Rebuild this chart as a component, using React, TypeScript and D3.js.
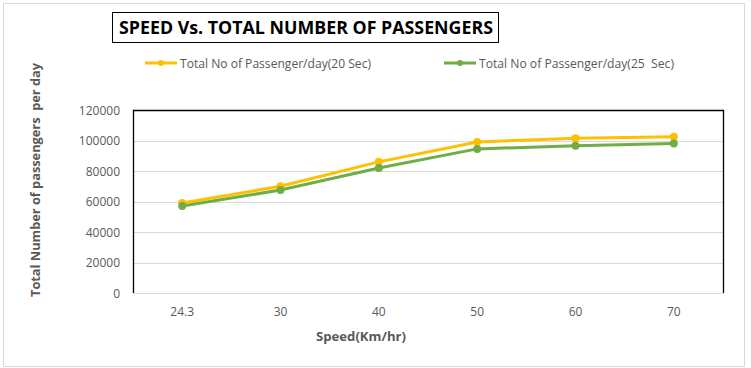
import React from 'react';
import * as d3 from 'd3';

const speeds = ['24.3', '30', '40', '50', '60', '70'];
const pass20 = [59000, 70000, 86000, 99000, 101500, 102500];
const pass25 = [57000, 67500, 82000, 94500, 96500, 98000];
const yTicks = [0, 20000, 40000, 60000, 80000, 100000, 120000];

const W = 751, H = 368;
const plot = { left: 133, right: 723, top: 110, bottom: 293 };
const FONT = "'Open Sans', 'DejaVu Sans', sans-serif";
const GREY = '#595959';

const series = [
    { name: 'Total No of Passenger/day(20 Sec)', values: pass20, color: '#FFC000' },
    { name: 'Total No of Passenger/day(25  Sec)', values: pass25, color: '#70AD47' },
];

export default function App() {
    const x = d3.scalePoint().domain(speeds).range([plot.left, plot.right]).padding(0.5);
    const y = d3.scaleLinear().domain([0, 120000]).range([plot.bottom, plot.top]);

    const line = d3.line<number>()
        .x((d, i) => x(speeds[i]) as number)
        .y(d => y(d));

    const legendX = [145, 444];

    return (
        <svg width={W} height={H} style={{ position: 'absolute', left: 0, top: 0 }} fontFamily={FONT}>
            <rect x={0} y={0} width={W} height={H} fill="#fff" />
            <rect x={3.5} y={3.5} width={741} height={363} fill="none" stroke="#d9d9d9" />

            {/* title */}
            <rect x={112.5} y={12.5} width={386} height={30} fill="#fff" stroke="#000" />
            <text x={119} y={33.5} fontSize={17} fontWeight="bold" fill="#000"
                textLength={374} lengthAdjust="spacingAndGlyphs">SPEED Vs. TOTAL NUMBER OF PASSENGERS</text>

            {/* legend */}
            {series.map((s, i) => (
                <g key={s.name}>
                    <line x1={legendX[i]} x2={legendX[i] + 32} y1={63} y2={63} stroke={s.color} strokeWidth={3} />
                    <circle cx={legendX[i] + 16} cy={63} r={3} fill={s.color} />
                    <text x={legendX[i] + 35} y={67.5} fontSize={12} fill={GREY} style={{ whiteSpace: 'pre' }}
                        textLength={i === 0 ? 191 : 195} lengthAdjust="spacingAndGlyphs">{s.name}</text>
                </g>
            ))}

            {/* gridlines */}
            {yTicks.filter(t => t > 0).map(t => (
                <line key={t} x1={plot.left} x2={plot.right} y1={Math.round(y(t)) + 0.5} y2={Math.round(y(t)) + 0.5}
                    stroke="#d9d9d9" strokeWidth={1} />
            ))}

            {/* plot area border */}
            <path d={`M${plot.left + 0.5},${plot.bottom}V${plot.top + 0.5}H${plot.right + 0.5}V${plot.bottom}`}
                fill="none" stroke="#000" strokeWidth={1.3} />
            <line x1={plot.left} x2={plot.right + 1} y1={plot.bottom + 0.5} y2={plot.bottom + 0.5} stroke="#d9d9d9" />

            {/* y tick labels */}
            {yTicks.map(t => (
                <text key={t} x={120} y={y(t) + 4.5} fontSize={12} fill={GREY} textAnchor="end">{t}</text>
            ))}

            {/* x tick labels */}
            {speeds.map(s => (
                <text key={s} x={x(s)} y={316} fontSize={12} fill={GREY} textAnchor="middle">{s}</text>
            ))}

            {/* axis titles */}
            <text x={361} y={341} fontSize={12} fontWeight="bold" fill={GREY} textAnchor="middle"
                textLength={90} lengthAdjust="spacingAndGlyphs">Speed(Km/hr)</text>
            <text transform="translate(40,180) rotate(-90)" fontSize={12} fontWeight="bold" fill={GREY}
                style={{ whiteSpace: 'pre' }}
                textAnchor="middle" textLength={234} lengthAdjust="spacingAndGlyphs">Total Number of passengers  per day</text>

            {/* series */}
            {series.map(s => (
                <g key={s.name}>
                    <path d={line(s.values) as string} fill="none" stroke={s.color} strokeWidth={3} strokeLinejoin="round" />
                    {s.values.map((v, i) => (
                        <circle key={i} cx={x(speeds[i])} cy={y(v)} r={4} fill={s.color} />
                    ))}
                </g>
            ))}
        </svg>
    );
}
